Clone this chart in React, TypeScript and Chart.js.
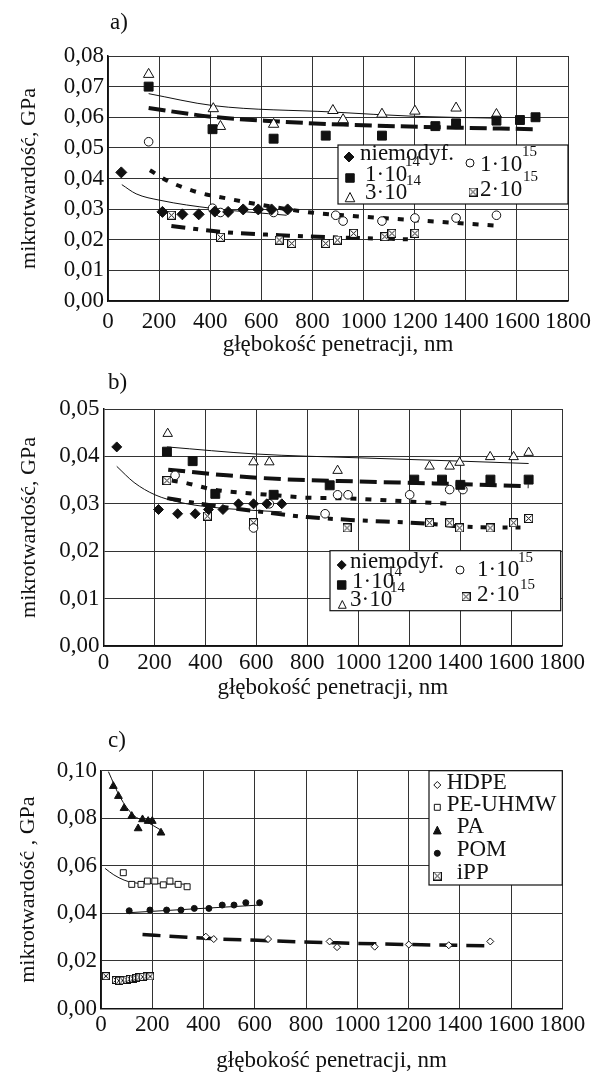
import React, { useEffect, useRef } from 'react';
import { Chart, registerables } from 'chart.js';
Chart.register(...registerables);

const FONT = '"Liberation Serif", "Times New Roman", serif';
const BLACK = '#111';
const GRID = '#333';
const X_TITLE = 'głębokość penetracji, nm';
const Y_TITLE_AB = 'mikrotwardość, GPa';
const Y_TITLE_C = 'mikrotwardość , GPa';
const PANEL_LABELS = ['a)', 'b)', 'c)'];
const LEGEND_AB = ['niemodyf.', '1·10', '3·10', '1·10', '2·10'];
const LEGEND_AB_EXP = ['14', '14', '15', '15'];
const LEGEND_C = ['HDPE', 'PE-UHMW', 'PA', 'POM', 'iPP'];

// ---------- panel a ----------
const aNiemodyfX = [52, 213, 291, 355, 418, 470, 529, 588, 640, 703];
const aNiemodyfY = [0.042, 0.0291, 0.0283, 0.0283, 0.0292, 0.0291, 0.0299, 0.0299, 0.0299, 0.0299];
const aE14X = [159, 409, 648, 852, 1072, 1281, 1362, 1520, 1612, 1673];
const aE14Y = [0.07, 0.0561, 0.053, 0.054, 0.054, 0.0571, 0.058, 0.0589, 0.0591, 0.06];
const a3E14X = [159, 412, 440, 648, 880, 920, 1072, 1201, 1362, 1520];
const a3E14Y = [0.074, 0.0628, 0.057, 0.0577, 0.0622, 0.0592, 0.061, 0.062, 0.063, 0.0609];
const aE15X = [159, 409, 440, 648, 891, 920, 1072, 1201, 1362, 1520];
const aE15Y = [0.052, 0.0303, 0.0289, 0.0289, 0.028, 0.0261, 0.0261, 0.0271, 0.0271, 0.028];
const a2E15X = [248, 440, 670, 719, 852, 898, 961, 1083, 1111, 1201];
const a2E15Y = [0.028, 0.0208, 0.0199, 0.0188, 0.0188, 0.0199, 0.0221, 0.021, 0.0221, 0.0221];
// trend lines a
const aT3E14X = [159, 412, 880, 1201, 1520];
const aT3E14Y = [0.0677, 0.0638, 0.0617, 0.0603, 0.0597];
const aTE14X = [159, 412, 648, 920, 1362, 1673];
const aTE14Y = [0.063, 0.0601, 0.0587, 0.0576, 0.0566, 0.0561];
const aTNiemX = [54, 110, 203, 412, 699];
const aTNiemY = [0.038, 0.035, 0.0329, 0.0302, 0.028];
const aTE15X = [164, 229, 347, 464, 647, 804, 920, 1201, 1520];
const aTE15Y = [0.0427, 0.0394, 0.0356, 0.0335, 0.0307, 0.0288, 0.028, 0.0264, 0.0246];
const aT2E15X = [248, 440, 670, 920, 1201];
const aT2E15Y = [0.0245, 0.0226, 0.0215, 0.0207, 0.0201];

// ---------- panel b ----------
const bNiemodyfX = [52, 216, 291, 360, 412, 469, 530, 589, 641, 700];
const bNiemodyfY = [0.042, 0.0288, 0.0279, 0.0279, 0.0288, 0.0288, 0.03, 0.03, 0.03, 0.03];
const bE14X = [249, 350, 439, 668, 888, 1220, 1329, 1401, 1519, 1669];
const bE14Y = [0.041, 0.039, 0.0321, 0.0319, 0.0339, 0.0351, 0.0351, 0.034, 0.0351, 0.0351];
const b3E14X = [252, 589, 651, 919, 1280, 1359, 1398, 1518, 1610, 1669];
const b3E14Y = [0.0448, 0.0388, 0.0388, 0.037, 0.0379, 0.0379, 0.0387, 0.0399, 0.0399, 0.0408];
const bE15X = [281, 589, 651, 870, 919, 960, 1202, 1359, 1411];
const bE15Y = [0.036, 0.0249, 0.03, 0.0279, 0.0319, 0.0319, 0.0319, 0.033, 0.033];
const b2E15X = [249, 408, 589, 956, 1280, 1359, 1398, 1518, 1610, 1669];
const b2E15Y = [0.0349, 0.0274, 0.026, 0.0249, 0.026, 0.026, 0.0249, 0.0249, 0.026, 0.0269];
// trend lines b
const bT3E14X = [249, 600, 1002, 1400, 1669];
const bT3E14Y = [0.042, 0.0405, 0.0397, 0.039, 0.0385];
const bTE14X = [254, 484, 700, 1000, 1300, 1669];
const bTE14Y = [0.0372, 0.036, 0.0352, 0.0347, 0.0343, 0.0337];
const bTE15X = [268, 314, 432, 556, 674, 792, 903, 1021, 1192, 1369];
const bTE15Y = [0.0349, 0.0345, 0.033, 0.0323, 0.0318, 0.0313, 0.0312, 0.031, 0.0305, 0.03];
const bT2E15X = [250, 380, 588, 800, 970, 1244, 1453, 1637];
const bT2E15Y = [0.0312, 0.03, 0.0285, 0.0272, 0.0266, 0.0259, 0.0251, 0.025];
const bTNiemX = [52, 120, 202, 300, 419, 560, 700];
const bTNiemY = [0.0379, 0.0345, 0.0319, 0.0303, 0.0293, 0.0287, 0.0283];

// ---------- panel c ----------
const cHdpeX = [409, 440, 652, 892, 921, 1068, 1201, 1357, 1519];
const cHdpeY = [0.0302, 0.0292, 0.0292, 0.0282, 0.0258, 0.026, 0.0269, 0.0266, 0.0282];
const cHdpeTX = [162, 301, 409, 652, 921, 1201, 1519];
const cHdpeTY = [0.0311, 0.0302, 0.0295, 0.0285, 0.0276, 0.0269, 0.0264];
const cPeX = [87, 120, 156, 181, 210, 243, 269, 301, 336];
const cPeY = [0.0571, 0.0522, 0.0522, 0.0536, 0.0536, 0.052, 0.0536, 0.0522, 0.0512];
const cPeTX = [16, 50, 90, 126, 200, 336];
const cPeTY = [0.0589, 0.0562, 0.054, 0.0529, 0.0525, 0.0523];
const cPaX = [48, 68, 90, 120, 145, 162, 184, 200, 234];
const cPaY = [0.0935, 0.0893, 0.0842, 0.0809, 0.0757, 0.0795, 0.0788, 0.0788, 0.0739];
const cPaTX = [29, 74, 126, 178, 234];
const cPaTY = [0.0996, 0.089, 0.0813, 0.0785, 0.075];
const cPomX = [110, 191, 256, 312, 364, 421, 473, 519, 565, 619];
const cPomY = [0.0411, 0.0414, 0.0414, 0.0414, 0.0421, 0.0421, 0.0435, 0.0435, 0.0445, 0.0445];
const cPomTX = [110, 619];
const cPomTY = [0.0403, 0.0435];
const cIppX = [19, 58, 70, 85, 100, 112, 125, 138, 150, 163, 178, 192];
const cIppY = [0.0136, 0.012, 0.0117, 0.0118, 0.0121, 0.0124, 0.0126, 0.0129, 0.0131, 0.0133, 0.0135, 0.0135];

const pts = (xs: number[], ys: number[]) => xs.map((x, i) => ({ x, y: ys[i] }));

function crossBox(size: number) {
  const c = document.createElement('canvas');
  c.width = size;
  c.height = size;
  const g = c.getContext('2d')!;
  g.fillStyle = '#fff';
  g.fillRect(0, 0, size, size);
  g.strokeStyle = BLACK;
  g.lineWidth = 1;
  g.strokeRect(0.5, 0.5, size - 1, size - 1);
  g.beginPath();
  g.moveTo(1.5, 1.5);
  g.lineTo(size - 1.5, size - 1.5);
  g.moveTo(size - 1.5, 1.5);
  g.lineTo(1.5, size - 1.5);
  g.stroke();
  return c;
}

function marker(xs: number[], ys: number[], style: any, radius: number, filled: boolean) {
  return {
    data: pts(xs, ys),
    showLine: false,
    pointStyle: style,
    pointRadius: radius,
    pointHoverRadius: radius,
    pointBackgroundColor: filled ? BLACK : '#fff',
    pointBorderColor: BLACK,
    pointBorderWidth: 1,
    order: 0,
  };
}

function trend(xs: number[], ys: number[], dash: number[], width: number) {
  return {
    data: pts(xs, ys),
    showLine: true,
    pointRadius: 0,
    pointHoverRadius: 0,
    borderColor: BLACK,
    borderWidth: width,
    borderDash: dash,
    cubicInterpolationMode: 'monotone',
    fill: false,
    order: 1,
  };
}

function drawMarker(ctx: CanvasRenderingContext2D, kind: string, x: number, y: number, r: number, filled: boolean) {
  ctx.save();
  ctx.lineWidth = 1;
  ctx.strokeStyle = BLACK;
  ctx.fillStyle = filled ? BLACK : '#fff';
  ctx.beginPath();
  if (kind === 'crossbox') {
    const img = crossBox(Math.round(r * 2));
    ctx.drawImage(img, x - img.width / 2, y - img.height / 2);
    ctx.restore();
    return;
  }
  if (kind === 'diamond') {
    ctx.moveTo(x, y - r);
    ctx.lineTo(x + r, y);
    ctx.lineTo(x, y + r);
    ctx.lineTo(x - r, y);
    ctx.closePath();
  } else if (kind === 'square') {
    const s = r * Math.SQRT1_2;
    ctx.rect(x - s, y - s, 2 * s, 2 * s);
  } else if (kind === 'triangle') {
    ctx.moveTo(x, y - r);
    ctx.lineTo(x + r * 0.866, y + r * 0.5 + 1);
    ctx.lineTo(x - r * 0.866, y + r * 0.5 + 1);
    ctx.closePath();
  } else {
    ctx.arc(x, y, r, 0, Math.PI * 2);
  }
  ctx.fill();
  ctx.stroke();
  ctx.restore();
}

type LegendItem = { kind?: string; mx?: number; my?: number; r?: number; filled?: boolean; text?: string; tx?: number; ty?: number; small?: boolean };

function legendPlugin(id: string, box: number[], items: LegendItem[], panelLabel: string, labelPos: number[]) {
  return {
    id,
    afterDraw(chart: any) {
      const ctx: CanvasRenderingContext2D = chart.ctx;
      ctx.save();
      ctx.fillStyle = '#fff';
      ctx.fillRect(box[0], box[1], box[2] - box[0], box[3] - box[1]);
      ctx.strokeStyle = BLACK;
      ctx.lineWidth = 1.2;
      ctx.strokeRect(box[0], box[1], box[2] - box[0], box[3] - box[1]);
      for (const it of items) {
        if (it.kind) drawMarker(ctx, it.kind, it.mx!, it.my!, it.r!, !!it.filled);
        if (it.text) {
          ctx.fillStyle = BLACK;
          ctx.font = `${it.small ? 15 : 23}px ${FONT}`;
          ctx.textAlign = 'left';
          ctx.textBaseline = 'middle';
          ctx.fillText(it.text, it.tx!, it.ty!);
        }
      }
      ctx.fillStyle = BLACK;
      ctx.font = `23px ${FONT}`;
      ctx.textAlign = 'left';
      ctx.textBaseline = 'alphabetic';
      ctx.fillText(panelLabel, labelPos[0], labelPos[1]);
      ctx.restore();
    },
  };
}

type Cfg = {
  yMax: number; yStep: number; padTop: number; padRight: number; yWidth: number; xHeight: number;
  xTickPad: number; xTitlePad: number; yTitle: string; yTitlePad: number;
};

function makeOptions(c: Cfg): any {
  const font = { family: FONT, size: 23 };
  return {
    animation: false,
    responsive: false,
    events: [],
    layout: { padding: { top: c.padTop, right: c.padRight, bottom: 0, left: 0 } },
    plugins: { legend: { display: false }, tooltip: { enabled: false } },
    scales: {
      x: {
        type: 'linear',
        min: 0,
        max: 1800,
        ticks: {
          stepSize: 200, autoSkip: false, maxRotation: 0, minRotation: 0, padding: c.xTickPad, color: BLACK, font,
          callback: (v: number) => String(Math.round(v)),
        },
        grid: { color: GRID, lineWidth: 1, drawTicks: false },
        border: { color: BLACK, width: 1.5 },
        title: { display: true, text: X_TITLE, color: BLACK, font, padding: { top: 0, bottom: c.xTitlePad } },
        afterFit: (s: any) => { s.height = c.xHeight; },
      },
      y: {
        type: 'linear',
        min: 0,
        max: c.yMax,
        ticks: {
          stepSize: c.yStep,
          autoSkip: false,
          padding: 4,
          color: BLACK,
          font,
          callback: (v: number) => v.toFixed(2).replace('.', ','),
        },
        grid: { color: GRID, lineWidth: 1, drawTicks: false },
        border: { color: BLACK, width: 1.5 },
        title: { display: true, text: c.yTitle, color: BLACK, font: { family: FONT, size: 22 }, padding: { top: c.yTitlePad, bottom: 0 } },
        afterFit: (s: any) => { s.width = c.yWidth; },
      },
    },
  };
}

function buildA(): any {
  const cb = crossBox(9);
  return {
    type: 'scatter',
    data: {
      datasets: [
        marker(aNiemodyfX, aNiemodyfY, 'rectRot', 5.5, true),
        marker(aE14X, aE14Y, 'rect', 6.3, true),
        marker(a3E14X, a3E14Y, 'triangle', 6, false),
        marker(aE15X, aE15Y, 'circle', 4.3, false),
        marker(a2E15X, a2E15Y, cb, 5, false),
        trend(aT3E14X, aT3E14Y, [], 1),
        trend(aTE14X, aTE14Y, [17, 6], 4),
        trend(aTNiemX, aTNiemY, [], 1),
        trend(aTE15X, aTE15Y, [6, 9], 4),
        trend(aT2E15X, aT2E15Y, [14, 8, 5, 8], 4),
      ],
    },
    options: makeOptions({ yMax: 0.08, yStep: 0.01, padTop: 56, padRight: 32, yWidth: 108, xHeight: 59, xTickPad: 7, xTitlePad: 1, yTitle: Y_TITLE_AB, yTitlePad: 16 }),
    plugins: [
      legendPlugin('legA', [338, 145, 568, 204], [
        { kind: 'diamond', mx: 349, my: 157, r: 5, filled: true, text: LEGEND_AB[0], tx: 360, ty: 154 },
        { text: LEGEND_AB_EXP[0], tx: 405, ty: 162, small: true },
        { kind: 'square', mx: 350, my: 178, r: 6, filled: true, text: LEGEND_AB[1], tx: 365, ty: 175 },
        { text: LEGEND_AB_EXP[1], tx: 406, ty: 181, small: true },
        { kind: 'triangle', mx: 350, my: 198, r: 5.5, filled: false, text: LEGEND_AB[2], tx: 365, ty: 193 },
        { kind: 'circle', mx: 470, my: 163, r: 4, filled: false, text: LEGEND_AB[3], tx: 480, ty: 165 },
        { text: LEGEND_AB_EXP[2], tx: 522, ty: 152, small: true },
        { kind: 'crossbox', mx: 473, my: 192, r: 4.5, text: LEGEND_AB[4], tx: 480, ty: 190 },
        { text: LEGEND_AB_EXP[3], tx: 523, ty: 177, small: true },
      ], PANEL_LABELS[0], [110, 29]),
    ],
  };
}

function buildB(): any {
  const cb = crossBox(9);
  return {
    type: 'scatter',
    data: {
      datasets: [
        marker(bNiemodyfX, bNiemodyfY, 'rectRot', 5, true),
        marker(bE14X, bE14Y, 'rect', 6.3, true),
        marker(b3E14X, b3E14Y, 'triangle', 5.5, false),
        marker(bE15X, bE15Y, 'circle', 4.3, false),
        marker(b2E15X, b2E15Y, cb, 5, false),
        trend(bT3E14X, bT3E14Y, [], 1),
        trend(bTE14X, bTE14Y, [17, 7], 4),
        trend(bTNiemX, bTNiemY, [], 1),
        trend(bTE15X, bTE15Y, [6, 9], 4),
        trend(bT2E15X, bT2E15Y, [14, 8, 5, 8], 4),
      ],
    },
    options: makeOptions({ yMax: 0.05, yStep: 0.01, padTop: 49, padRight: 38, yWidth: 103.5, xHeight: 59, xTickPad: 3, xTitlePad: 3, yTitle: Y_TITLE_AB, yTitlePad: 16 }),
    plugins: [
      legendPlugin('legB', [330, 190.7, 560.7, 250.7], [
        { kind: 'diamond', mx: 341.7, my: 205, r: 4.5, filled: true, text: LEGEND_AB[0], tx: 350, ty: 201.7 },
        { text: LEGEND_AB_EXP[0], tx: 387, ty: 211.7, small: true },
        { kind: 'square', mx: 341.7, my: 225, r: 6, filled: true, text: LEGEND_AB[1], tx: 352, ty: 221.7 },
        { text: LEGEND_AB_EXP[1], tx: 390, ty: 228.3, small: true },
        { kind: 'triangle', mx: 342.3, my: 245, r: 4.5, filled: false, text: LEGEND_AB[2], tx: 350, ty: 240 },
        { kind: 'circle', mx: 460, my: 210, r: 4, filled: false, text: LEGEND_AB[3], tx: 477, ty: 210 },
        { text: LEGEND_AB_EXP[2], tx: 518, ty: 198.3, small: true },
        { kind: 'crossbox', mx: 466, my: 236.7, r: 4.5, text: LEGEND_AB[4], tx: 477, ty: 235 },
        { text: LEGEND_AB_EXP[3], tx: 520, ty: 225, small: true },
      ], PANEL_LABELS[1], [108, 29]),
    ],
  };
}

function buildC(): any {
  const cb = crossBox(8);
  return {
    type: 'scatter',
    data: {
      datasets: [
        marker(cHdpeX, cHdpeY, 'rectRot', 3.5, false),
        marker(cPeX, cPeY, 'rect', 4.2, false),
        marker(cPaX, cPaY, 'triangle', 4.5, true),
        marker(cPomX, cPomY, 'circle', 3, true),
        marker(cIppX, cIppY, cb, 4, false),
        trend(cHdpeTX, cHdpeTY, [18, 9], 3.5),
        trend(cPeTX, cPeTY, [], 1),
        trend(cPaTX, cPaTY, [], 1),
        trend(cPomTX, cPomTY, [], 1),
      ],
    },
    options: makeOptions({ yMax: 0.1, yStep: 0.02, padTop: 65.7, padRight: 37.7, yWidth: 101, xHeight: 66.5, xTickPad: 2.7, xTitlePad: 0, yTitle: Y_TITLE_C, yTitlePad: 15 }),
    plugins: [
      legendPlugin('legC', [429, 65.7, 562.3, 180], [
        { kind: 'diamond', mx: 437.3, my: 80, r: 3.5, filled: false, text: LEGEND_C[0], tx: 446.7, ty: 77.7 },
        { kind: 'square', mx: 437.3, my: 102.3, r: 4.2, filled: false, text: LEGEND_C[1], tx: 446.7, ty: 100 },
        { kind: 'triangle', mx: 437.3, my: 125.7, r: 4.5, filled: true, text: LEGEND_C[2], tx: 456.7, ty: 122.3 },
        { kind: 'circle', mx: 437.3, my: 148.3, r: 3, filled: true, text: LEGEND_C[3], tx: 456.7, ty: 145 },
        { kind: 'crossbox', mx: 437.3, my: 171, r: 4.5, text: LEGEND_C[4], tx: 456.7, ty: 167.7 },
      ], PANEL_LABELS[2], [108, 42]),
    ],
  };
}

function Panel({ top, height, build }: { top: number; height: number; build: () => any }) {
  const ref = useRef<HTMLCanvasElement>(null);
  useEffect(() => {
    const chart = new Chart(ref.current!, build());
    return () => chart.destroy();
  }, []);
  return (
    <canvas
      ref={ref}
      width={600}
      height={height}
      style={{ position: 'absolute', left: 0, top, width: 600, height, display: 'block' }}
    />
  );
}

export default function App() {
  return (
    <div style={{ position: 'absolute', left: 0, top: 0, width: 600, height: 1075, background: '#fff' }}>
      <Panel top={0} height={360} build={buildA} />
      <Panel top={360} height={345} build={buildB} />
      <Panel top={705} height={370} build={buildC} />
    </div>
  );
}
